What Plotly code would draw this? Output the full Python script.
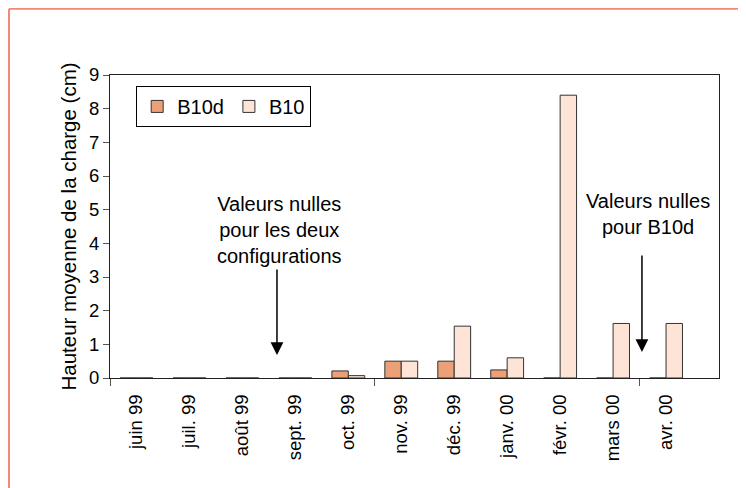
import plotly.graph_objects as go

# Données
mois = ['juin 99', 'juil. 99', 'août 99', 'sept. 99', 'oct. 99', 'nov. 99',
        'déc. 99', 'janv. 00', 'févr. 00', 'mars 00', 'avr. 00']
b10d = [0, 0, 0, 0, 0.21, 0.5, 0.5, 0.24, 0, 0, 0]
b10 = [0, 0, 0, 0, 0.07, 0.5, 1.54, 0.6, 8.4, 1.62, 1.62]

positions = list(range(len(mois)))

fig = go.Figure()

fig.add_trace(go.Bar(
    x=positions, y=b10d, name='B10d',
    marker=dict(color='#ECA078', line=dict(color='#333333', width=1))
))
fig.add_trace(go.Bar(
    x=positions, y=b10, name='B10',
    marker=dict(color='#FDE4D6', line=dict(color='#333333', width=1))
))

police = 'Liberation Sans, Arial, sans-serif'

# la page html ajoute une marge de 8 px : la figure fait donc 738 x 480
fig.update_layout(
    width=738, height=480,
    margin=dict(l=102, r=27, t=67, b=110),
    paper_bgcolor='white', plot_bgcolor='white',
    barmode='group', bargap=0.38, bargroupgap=0,
    font=dict(family=police, size=18, color='black'),
    legend=dict(
        orientation='h', x=0.043, y=0.964, xanchor='left', yanchor='top',
        bordercolor='black', borderwidth=1, bgcolor='white',
        font=dict(size=20), traceorder='normal'
    ),
    showlegend=True
)

fig.update_xaxes(
    range=[-0.5, 11.0],
    tickmode='array', tickvals=positions, ticktext=mois,
    tickangle=-90, ticks='', ticklabelstandoff=8,
    tickfont=dict(size=18.5),
    showline=True, linecolor='#222222', linewidth=1.2, mirror=True,
    showgrid=False, zeroline=False,
    minor=dict(tickmode='linear', tick0=-0.5, dtick=5, ticks='outside',
               ticklen=7, tickcolor='#555555', tickwidth=1, showgrid=False)
)

fig.update_yaxes(
    range=[0, 9], dtick=1,
    ticks='outside', ticklen=6, tickcolor='#555555', tickwidth=1,
    tickfont=dict(size=18.5),
    showline=True, linecolor='#222222', linewidth=1.2, mirror=True,
    showgrid=False, zeroline=False,
    title=dict(text='Hauteur moyenne de la charge (cm)', font=dict(size=20.5), standoff=6)
)

# Textes et flèches
fig.add_annotation(x=2.71, y=4.40, xref='x', yref='y', showarrow=False,
                   text='Valeurs nulles<br>pour les deux<br>configurations',
                   font=dict(size=20), align='center')
fig.add_annotation(x=2.653, y=0.68, ax=2.653, ay=3.27, xref='x', yref='y',
                   axref='x', ayref='y', text='', showarrow=True,
                   arrowhead=2, arrowsize=1.7, arrowwidth=1.5, arrowcolor='black')

fig.add_annotation(x=9.66, y=4.87, xref='x', yref='y', showarrow=False,
                   text='Valeurs nulles<br>pour B10d',
                   font=dict(size=20), align='center')
fig.add_annotation(x=9.545, y=0.77, ax=9.545, ay=3.68, xref='x', yref='y',
                   axref='x', ayref='y', text='', showarrow=True,
                   arrowhead=2, arrowsize=1.7, arrowwidth=1.5, arrowcolor='black')

# Cadre extérieur saumon : seuls les bords haut et gauche sont visibles
fig.add_shape(type='line', xref='paper', yref='paper',
              x0=-0.1658, x1=1.2, y0=1.2188, y1=1.2188,
              line=dict(color='#F08878', width=2))
fig.add_shape(type='line', xref='paper', yref='paper',
              x0=-0.1658, x1=-0.1658, y0=-0.45, y1=1.2188,
              line=dict(color='#F08878', width=2))

fig.write_html('out.html')
